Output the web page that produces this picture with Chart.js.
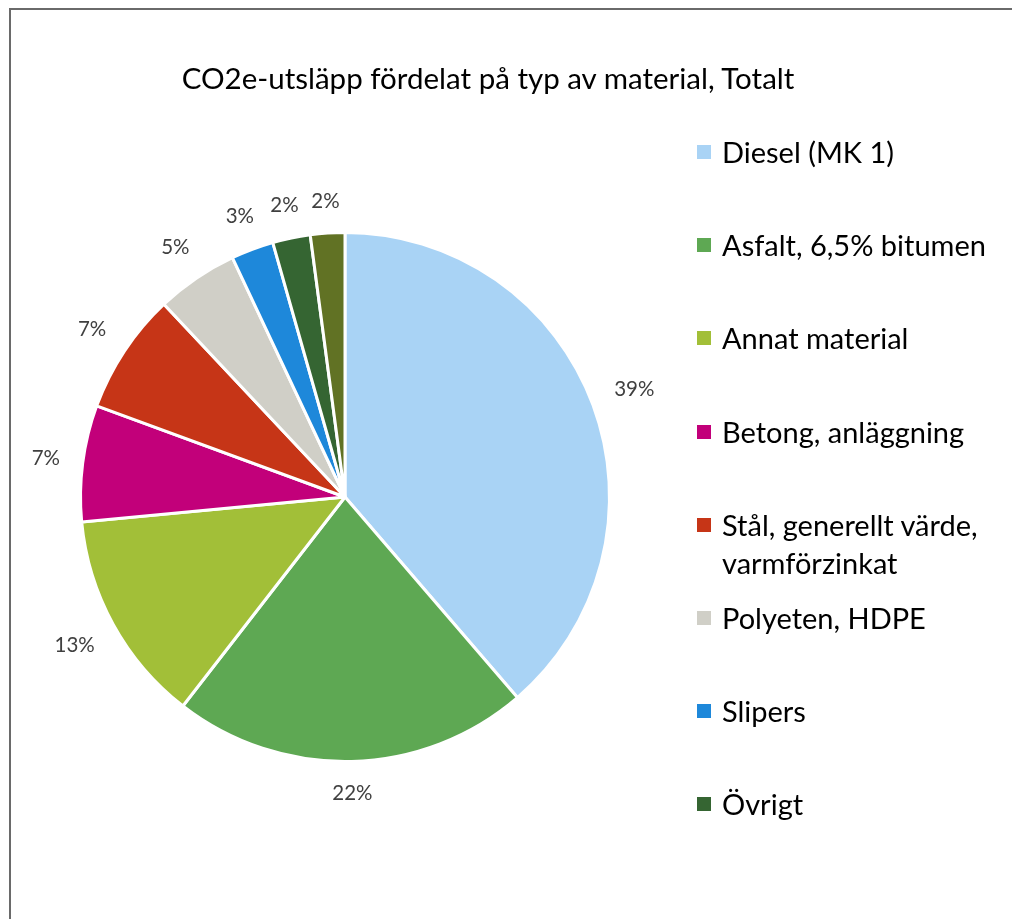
<!DOCTYPE html>
<html>
<head>
<meta charset="utf-8">
<script src="https://cdn.jsdelivr.net/npm/chart.js@4.4.0/dist/chart.umd.min.js"></script>
<style>
  html, body { margin: 0; padding: 0; background: #fff; }
  body { width: 1012px; height: 919px; position: relative; overflow: hidden; font-family: Lato, "Open Sans", sans-serif; }
  #frame { position: absolute; left: 9px; top: 8px; width: 1100px; height: 1000px; border: 2px solid #6a6a6a; box-sizing: border-box; }
  #wrap { position: absolute; left: 0; top: 0; width: 1012px; height: 919px; }
  #title { position: absolute; left: 0; width: 976px; top: 59px; text-align: center; font-size: 29.5px; line-height: 38px; color: #000; white-space: nowrap; }
  #legend { position: absolute; left: 0; top: 0; }
  .item { position: absolute; left: 697px; width: 315px; font-size: 29px; line-height: 38px; color: #000; }
  .sw { position: absolute; left: 0; top: 12px; width: 14px; height: 14px; }
  .txt { position: absolute; left: 25px; top: 0; width: 290px; white-space: normal; }
</style>
</head>
<body>
<div id="frame"></div>
<div id="wrap"><canvas id="c" width="1012" height="919"></canvas></div>
<div id="title"></div>
<div id="legend"></div>
<script>
const chartTitle = "CO2e-utsläpp fördelat på typ av material, Totalt";
const categories = ["Diesel (MK 1)", "Asfalt, 6,5% bitumen", "Annat material", "Betong, anläggning", "Stål, generellt värde, varmförzinkat", "Polyeten, HDPE", "Slipers", "Övrigt", "Övrigt (ej i förklaring)"];
const values = [38.7, 21.8, 13.0, 7.1, 7.4, 5.0, 2.6, 2.3, 2.1];
const colors = ["#A9D3F5", "#5EA853", "#A2BF38", "#C2007A", "#C63517", "#D0CFC7", "#1E88DA", "#356532", "#617224"];
const legendCount = 8;

document.getElementById('title').textContent = chartTitle;

const legend = document.getElementById('legend');
for (let i = 0; i < legendCount; i++) {
  const it = document.createElement('div');
  it.className = 'item';
  it.style.top = (133 + i * 93.2) + 'px';
  const sw = document.createElement('div');
  sw.className = 'sw';
  sw.style.background = colors[i];
  const tx = document.createElement('div');
  tx.className = 'txt';
  tx.textContent = categories[i];
  it.appendChild(sw); it.appendChild(tx);
  legend.appendChild(it);
}

const total = values.reduce((a, b) => a + b, 0);

const labelPlugin = {
  id: 'pctLabels',
  afterDatasetsDraw(chart) {
    const ctx = chart.ctx;
    const meta = chart.getDatasetMeta(0);
    ctx.save();
    ctx.font = '20.5px Lato, "Open Sans", sans-serif';
    ctx.fillStyle = '#404040';
    ctx.textAlign = 'center';
    ctx.textBaseline = 'middle';
    meta.data.forEach((arc, i) => {
      const p = arc.getProps(['x', 'y', 'startAngle', 'endAngle', 'outerRadius'], true);
      const mid = (p.startAngle + p.endAngle) / 2;
      const txt = Math.round(values[i] / total * 100) + '%';
      const halfW = ctx.measureText(txt).width / 2;
      const halfH = 9;
      const c = Math.cos(mid), s = Math.sin(mid);
      const r = p.outerRadius + 22 + Math.abs(c) * halfW + Math.abs(s) * halfH;
      ctx.fillText(txt, p.x + c * r, p.y + s * r);
    });
    ctx.restore();
  }
};

new Chart(document.getElementById('c'), {
  type: 'pie',
  data: {
    labels: categories,
    datasets: [{
      data: values,
      backgroundColor: colors,
      borderColor: '#ffffff',
      borderWidth: 3
    }]
  },
  options: {
    responsive: false,
    animation: false,
    events: [],
    layout: { padding: { left: 79, right: 401, top: 231, bottom: 156 } },
    plugins: {
      legend: { display: false },
      title: { display: false },
      tooltip: { enabled: false }
    }
  },
  plugins: [labelPlugin]
});
</script>
</body>
</html>
